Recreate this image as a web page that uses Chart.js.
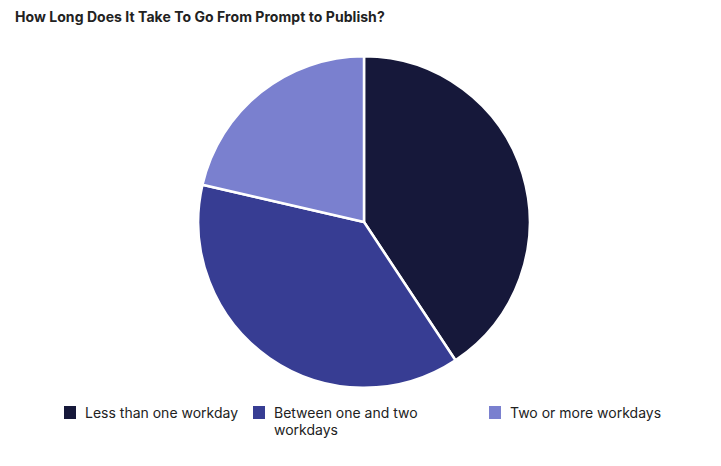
<!DOCTYPE html>
<html>
<head>
<meta charset="utf-8">
<script src="https://cdn.jsdelivr.net/npm/chart.js@4"></script>
<style>
  html, body { margin: 0; padding: 0; background: #fff; width: 721px; height: 466px; overflow: hidden; font-family: Inter, "Noto Sans", sans-serif; }
  #title { position: absolute; left: 15px; top: 8px; font-size: 14px; font-weight: 700; color: #222; line-height: 17px; letter-spacing: 0.05px; }
  #chartBox { position: absolute; left: 197px; top: 55px; width: 334px; height: 334px; }
  #legend { position: absolute; left: 64px; top: 404px; display: flex; font-size: 14px; color: #222; line-height: 17px; }
  .item { display: flex; align-items: flex-start; }
  .box { width: 12px; height: 13px; margin-top: 2px; margin-right: 9px; box-sizing: border-box; flex: none; }
  .txt { max-width: 170px; }
</style>
</head>
<body>
<div id="title">How Long Does It Take To Go From Prompt to Publish?</div>
<div id="chartBox"><canvas id="c"></canvas></div>
<div id="legend"></div>
<script>
const categories = ["Less than one workday", "Between one and two workdays", "Two or more workdays"];
const values = [40.7, 37.9, 21.4];
const colors = ["#16183a", "#373d93", "#7a80cf"];
const legendWidths = [189, 236, 200];

const chart = new Chart(document.getElementById('c'), {
  type: 'pie',
  data: {
    labels: categories,
    datasets: [{ data: values, backgroundColor: colors, borderColor: '#ffffff', borderWidth: 2.5 }]
  },
  options: {
    responsive: true,
    maintainAspectRatio: false,
    animation: false,
    layout: { padding: 0 },
    plugins: { legend: { display: false }, tooltip: { enabled: false }, title: { display: false } }
  }
});

const legend = document.getElementById('legend');
chart.data.labels.forEach((label, i) => {
  const item = document.createElement('div');
  item.className = 'item';
  item.style.width = legendWidths[i] + 'px';
  const box = document.createElement('span');
  box.className = 'box';
  box.style.background = chart.data.datasets[0].backgroundColor[i];
  const txt = document.createElement('span');
  txt.className = 'txt';
  txt.textContent = label;
  item.appendChild(box);
  item.appendChild(txt);
  legend.appendChild(item);
});
</script>
</body>
</html>
